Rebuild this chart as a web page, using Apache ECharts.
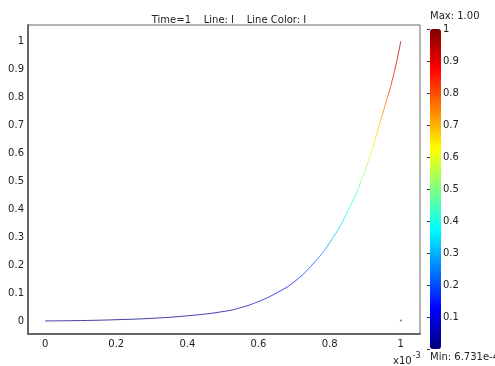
<!DOCTYPE html>
<html lang="en">
<head>
<meta charset="UTF-8" />
<script src="https://cdn.jsdelivr.net/npm/echarts@6/dist/echarts.min.js"></script>
<style>
html,body{margin:0;padding:0;background:#fff;}
#main{width:495px;height:366px;}
</style>
</head>
<body>
<div id="main"></div>
<script type="text/javascript">
// arc length (x10^-3) and value of I along the line
var xs = [0, 0.1, 0.2, 0.3, 0.4, 0.5, 0.55, 0.6, 0.65, 0.7, 0.75, 0.8, 0.85, 0.9, 0.95, 0.98, 1.0];
var ys = [0.00067, 0.002, 0.005, 0.01, 0.019, 0.034, 0.048, 0.07, 0.1, 0.14, 0.2, 0.28, 0.39, 0.54, 0.745, 0.88, 1.0];
var strayPoint = [[1.0, 0.002]];
var xTicks = [0, 0.2, 0.4, 0.6, 0.8, 1];
var yTicks = [0, 0.1, 0.2, 0.3, 0.4, 0.5, 0.6, 0.7, 0.8, 0.9, 1];
var colorMin = 0.0006731, colorMax = 1;
var jet = ['#00007f','#0000ff','#007fff','#00ffff','#7fff7f','#ffff00','#ff7f00','#ff0000','#7f0000'];

var lineData = [];
for (var i = 0; i < xs.length; i++) lineData.push([xs[i], ys[i]]);

var font = 'DejaVu Sans';
var chart = echarts.init(document.getElementById('main'));
chart.setOption({
	animation: false,
	textStyle: { fontFamily: font },
	title: {
		text: 'Time=1    Line: I    Line Color: I',
		left: 224, top: 10, textAlign: 'center',
		textStyle: { fontSize: 10, fontWeight: 'normal', color: '#222', fontFamily: font }
	},
	grid: [
		{ left: 28, top: 25, width: 392, height: 309, show: true, borderColor: '#666', borderWidth: 1, outerBoundsMode: 'none' },
		{ left: 430, top: 29, width: 11, height: 320, outerBoundsMode: 'none' }
	],
	xAxis: [
		{
			type: 'value', gridIndex: 0, min: -0.048, max: 1.054,
			splitLine: { show: false },
			axisLine: { show: true, onZero: false, lineStyle: { color: '#666', width: 2 } },
			axisTick: { show: false },
			axisLabel: { customValues: xTicks, margin: 5, fontSize: 10, color: '#222', fontFamily: font }
		},
		{ type: 'value', gridIndex: 1, show: false }
	],
	yAxis: [
		{
			type: 'value', gridIndex: 0, min: -0.046, max: 1.057,
			splitLine: { show: false },
			axisLine: { show: true, onZero: false, lineStyle: { color: '#666', width: 2 } },
			axisTick: { show: false },
			axisLabel: {
				customValues: yTicks,
				margin: 4, fontSize: 10, color: '#222', fontFamily: font,
				formatter: function (v) { return String(Math.round(v * 10) / 10); }
			}
		},
		{
			type: 'value', gridIndex: 1, position: 'right', min: 0, max: 1, interval: 0.1,
			splitLine: { show: false },
			axisLine: { show: false },
			axisTick: { show: true, inside: true, length: 3, lineStyle: { color: '#333' } },
			axisLabel: {
				margin: 2, fontSize: 10, color: '#222', fontFamily: font,
				formatter: function (v) { return v === 0 ? '' : String(Math.round(v * 10) / 10); }
			}
		}
	],
	visualMap: {
		type: 'continuous', seriesIndex: 0, dimension: 1,
		min: colorMin, max: colorMax,
		show: true, calculable: false, hoverLink: false,
		left: 430, top: 29, padding: 0,
		itemWidth: 11, itemHeight: 320,
		text: null,
		inRange: { color: jet }
	},
	graphic: [
		{ type: 'text', left: 430, top: 11, style: { text: 'Max: 1.00', font: '10px "DejaVu Sans"', fill: '#222' } },
		{ type: 'text', left: 430, top: 352, style: { text: 'Min: 6.731e-4', font: '10px "DejaVu Sans"', fill: '#222' } },
		{ type: 'text', left: 393, top: 352, style: {
			text: '{a|x10}{b|-3}',
			rich: {
				a: { fontSize: 10, fontFamily: font, fill: '#222', padding: [6, 0, 0, 0] },
				b: { fontSize: 8, fontFamily: font, fill: '#222', padding: [0, 0, 4, 1] }
			}
		} }
	],
	series: [
		{
			type: 'line', xAxisIndex: 0, yAxisIndex: 0,
			data: lineData, smooth: true, showSymbol: false,
			lineStyle: { width: 1, opacity: 0.75 }
		},
		{
			type: 'scatter', xAxisIndex: 0, yAxisIndex: 0,
			data: strayPoint, symbolSize: 2,
			itemStyle: { color: '#555' }
		}
	]
});
</script>
</body>
</html>
